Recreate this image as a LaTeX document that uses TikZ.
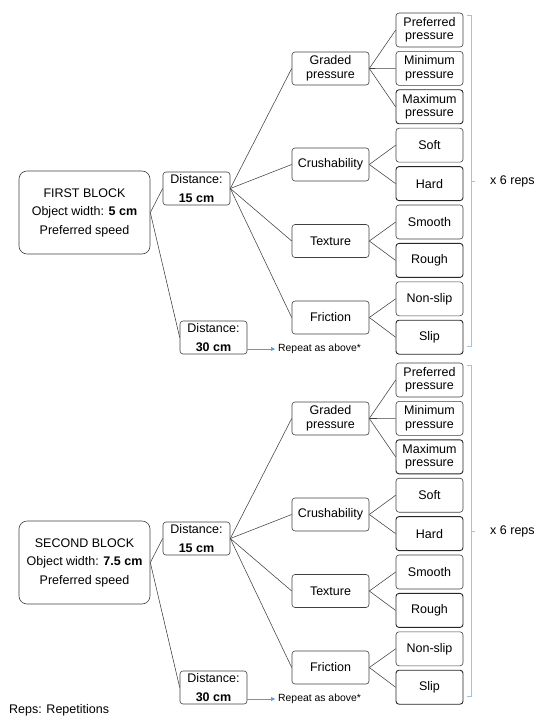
\documentclass[tikz,border=0pt]{standalone}
\usepackage{fontspec}
\setmainfont{Liberation Sans}
\usetikzlibrary{arrows.meta}
\definecolor{edge}{HTML}{404040}
\definecolor{arrowblue}{HTML}{5B9BD5}
\definecolor{brk}{HTML}{9DC3E6}
\begin{document}
\begin{tikzpicture}[x=1pt,y=-1pt,
  box/.style={draw=edge, rounded corners=3pt, line width=0.6pt, minimum width=67pt, minimum height=34pt, inner sep=0pt, align=center, font=\fontsize{12.5}{13.5}\selectfont},
  boxdark/.style={box, line width=0.9pt, draw=black!85},
  midbox/.style={box, minimum width=77pt, minimum height=33pt},
  distbox/.style={box, minimum height=33pt, font=\fontsize{12.5}{19}\selectfont},
  blkbox/.style={box, minimum width=131pt, minimum height=83pt, rounded corners=8pt, font=\fontsize{12.5}{18.5}\selectfont},
  link/.style={draw=edge, line width=0.55pt},
  reparrow/.style={draw=arrowblue, line width=0.6pt, -{Triangle[length=4pt,width=4pt]}},
  bracket/.style={draw=brk, line width=0.6pt},
  plain/.style={inner sep=0pt, font=\fontsize{12.5}{14}\selectfont},
  small/.style={inner sep=0pt, font=\fontsize{10.4}{12}\selectfont}
]
\useasboundingbox (0,0) rectangle (535,727);

\foreach \b/\dy/\title/\w in {1/0/FIRST BLOCK/5 cm, 2/350/SECOND BLOCK/7.5 cm} {
  \begin{scope}[shift={(0,\dy)}]
    \node[blkbox] (blk\b) at (84.5,212.5) {\title\\Object width: \textbf{\w}\\Preferred speed};
    \node[distbox] (da\b) at (196.5,188.5) {Distance:\\\textbf{15 cm}};
    \node[distbox] (db\b) at (213.5,337.5) {Distance:\\\textbf{30 cm}};
    \node[small, anchor=west] (rep\b) at (278,349) {Repeat as above*};

    \node[midbox] (gp\b) at (330.5,68.5) {Graded\\pressure};
    \node[midbox] (cr\b) at (330.5,164.5) {Crushability};
    \node[midbox] (tx\b) at (330.5,241) {Texture};
    \node[midbox] (fr\b) at (330.5,317.5) {Friction};

    \node[box] (pp\b) at (429.5,30) {Preferred\\pressure};
    \node[box] (mn\b) at (429.5,68.4) {Minimum\\pressure};
    \node[boxdark] (mx\b) at (429.5,106.8) {Maximum\\pressure};
    \node[box] (so\b) at (429.5,145.2) {Soft};
    \node[boxdark] (ha\b) at (429.5,183.6) {Hard};
    \node[box] (sm\b) at (429.5,222) {Smooth};
    \node[boxdark] (ro\b) at (429.5,260.4) {Rough};
    \node[box] (ns\b) at (429.5,298.8) {Non-slip};
    \node[boxdark] (sl\b) at (429.5,337.2) {Slip};

    \draw[link] (blk\b.east) -- (da\b.west);
    \draw[link] (blk\b.east) -- (db\b.west);
    \foreach \m in {gp,cr,tx,fr} { \draw[link] (da\b.east) -- (\m\b.west); }
    \foreach \l in {pp,mn,mx} { \draw[link] (gp\b.east) -- (\l\b.west); }
    \foreach \l in {so,ha} { \draw[link] (cr\b.east) -- (\l\b.west); }
    \foreach \l in {sm,ro} { \draw[link] (tx\b.east) -- (\l\b.west); }
    \foreach \l in {ns,sl} { \draw[link] (fr\b.east) -- (\l\b.west); }
    \draw[reparrow] (db\b.east |- rep\b.west) -- ([xshift=-3pt]rep\b.west);

    \coordinate (bt\b) at (467,15);
    \coordinate (bb\b) at (467,346);
    \coordinate (bm\b) at (471,181);
    \draw[bracket] (bt\b) -- ++(4,0) -- (bb\b -| bm\b) -- (bb\b);
    \draw[bracket] (bm\b) -- ++(4,0);
    \node[plain, anchor=west] (reps\b) at (490,181) {x 6 reps};
  \end{scope}
}
\node[plain, anchor=west] (legend) at (9,710) {Reps: Repetitions};
\end{tikzpicture}
\end{document}
